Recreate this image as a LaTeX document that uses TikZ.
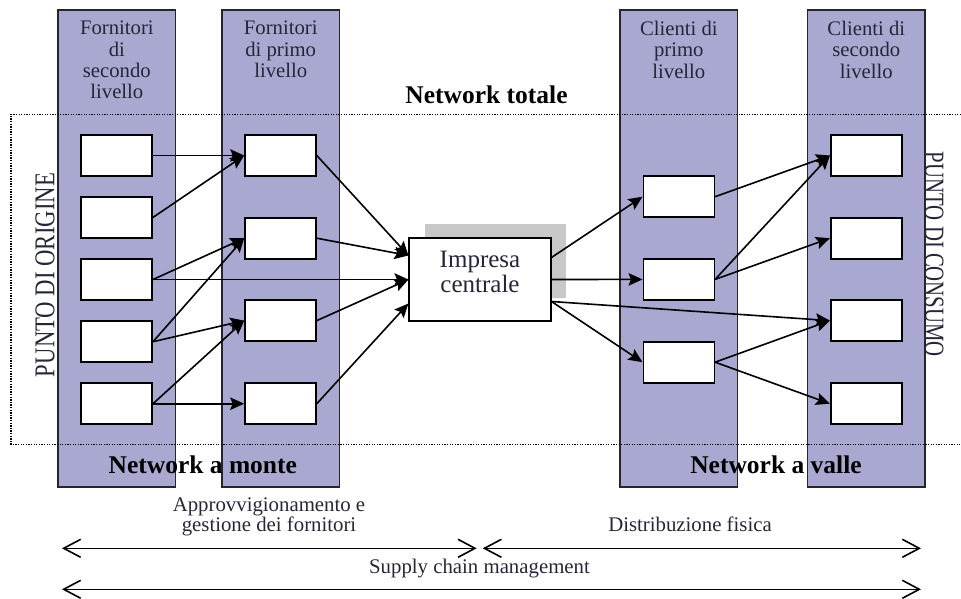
\documentclass[tikz,border=0pt]{standalone}
\usepackage{fontspec}
\usepackage{graphicx}
\setmainfont{Liberation Serif}
\usetikzlibrary{arrows.meta}
\definecolor{colfill}{RGB}{169,168,208}
\definecolor{shadowgray}{RGB}{200,200,200}
\definecolor{txt}{RGB}{38,38,58}
\begin{document}
\begin{tikzpicture}[x=1pt,y=-1pt,
  column/.style={draw=black!85, line width=1.5pt, fill=colfill, minimum width=117.7pt, minimum height=476.5pt, inner sep=0pt},
  unit/.style={draw=black, line width=1.6pt, fill=white, minimum width=71pt, minimum height=41pt, inner sep=0pt},
  corebox/.style={draw=black, line width=1.6pt, fill=white, minimum width=141.5pt, minimum height=82.5pt, inner sep=0pt},
  shadowbox/.style={fill=shadowgray, minimum width=141pt, minimum height=74pt, inner sep=0pt},
  flow/.style={-{Stealth[length=14pt,width=12.5pt,inset=2.5pt]}, line width=1.6pt},
  span/.style={{Straight Barb[length=17pt,width=18pt]}-{Straight Barb[length=17pt,width=18pt]}, line width=1.6pt},
  head/.style={font=\fontsize{20.7}{21.3}\selectfont, align=center, text=txt, inner sep=0pt, anchor=north},
  plain/.style={font=\fontsize{20.8}{20}\selectfont, align=center, text=txt, inner sep=0pt},
  boldlab/.style={font=\fontsize{25.5}{27}\selectfont\bfseries, inner sep=0pt, anchor=base},
  frame/.style={line width=1.4pt, dash pattern=on 1.3pt off 1.3pt}
]
\useasboundingbox (0,0) rectangle (961,599);

% columns
\node[column] (col1) at (116.85,248.5) {};
\node[column] (col2) at (280.7,248.5) {};
\node[column] (col3) at (678.85,248.5) {};
\node[column] (col4) at (866.3,248.5) {};

% column headers
\node[head] (h1) at (116.85,21) {Fornitori\\di\\secondo\\livello};
\node[head] (h2) at (280.7,21) {Fornitori\\di primo\\livello};
\node[head] (h3) at (678.85,21) {Clienti di\\primo\\livello};
\node[head] (h4) at (866.3,21) {Clienti di\\secondo\\livello};

% dotted frame
\draw[frame] (961,114.3) -- (11,114.3) -- (11,444.3) -- (961,444.3);

% boxes column 1
\node[unit] (a1) at (116.7,155.5) {};
\node[unit] (a2) at (116.7,217.4) {};
\node[unit] (a3) at (116.7,279.5) {};
\node[unit] (a4) at (116.7,341.7) {};
\node[unit] (a5) at (116.7,403.7) {};
% column 2
\node[unit] (b1) at (280.5,155.5) {};
\node[unit] (b2) at (280.5,238.2) {};
\node[unit] (b3) at (280.5,320.6) {};
\node[unit] (b4) at (280.5,403.7) {};
% column 3
\node[unit] (c1) at (678.8,196.7) {};
\node[unit] (c2) at (678.8,279.4) {};
\node[unit] (c3) at (678.8,362.2) {};
% column 4
\node[unit] (d1) at (866.2,155.5) {};
\node[unit] (d2) at (866.2,238.2) {};
\node[unit] (d3) at (866.2,320.6) {};
\node[unit] (d4) at (866.2,403.7) {};

% central firm
\node[shadowbox] (shadow) at (495.5,261) {};
\node[corebox] (core) at (480,279.5) {};
\node[font=\fontsize{25}{25}\selectfont, align=center, text=txt, inner sep=0pt, anchor=north] (coretext) at (480,251.2) {Impresa\\centrale};

% arrows col1 -> col2
\draw[flow] (a1.east) -- (b1.west);
\draw[flow] (a2.east) -- (b1.west);
\draw[flow] (a3.east) -- (b2.west);
\draw[flow] (a3.east) -- (core.west);
\draw[flow] (a4.east) -- (b2.west);
\draw[flow] (a4.east) -- (b3.west);
\draw[flow] (a5.east) -- (b3.west);
\draw[flow] (a5.east) -- (b4.west);
% col2 -> core
\draw[flow] (b1.east) -- ([yshift=24pt]core.west);
\draw[flow] (b2.east) -- ([yshift=24pt]core.west);
\draw[flow] (b3.east) -- (core.west);
\draw[flow] (b4.east) -- ([yshift=-24pt]core.west);
% core -> right
\draw[flow] ([yshift=22pt]core.east) -- (c1.west);
\draw[flow] (core.east) -- (c2.west);
\draw[flow] ([yshift=-22pt]core.east) -- (c3.west);
\draw[flow] ([yshift=-22pt]core.east) -- (d3.west);
% col3 -> col4
\draw[flow] (c1.east) -- (d1.west);
\draw[flow] (c2.east) -- (d1.west);
\draw[flow] (c2.east) -- (d2.west);
\draw[flow] (c3.east) -- (d3.west);
\draw[flow] (c3.east) -- (d4.west);

% labels
\node[boldlab] (nt) at (486.5,104) {Network totale};
\node[boldlab] (nm) at (202.8,473.3) {Network a monte};
\node[boldlab] (nv) at (776,473.3) {Network a valle};

\node[rotate=90, inner sep=0pt, text=txt] (po) at (45,275) {\resizebox{204pt}{19pt}{PUNTO DI ORIGINE}};
\node[rotate=-90, inner sep=0pt, text=txt] (pc) at (934.2,254.5) {\resizebox{205pt}{18.5pt}{PUNTO DI CONSUMO}};

\node[plain, anchor=north] (app) at (269,498) {Approvvigionamento e\\gestione dei fornitori};
\node[plain, anchor=base] (dist) at (690,531.7) {Distribuzione fisica};
\node[plain, anchor=base] (scm) at (479.5,573.3) {Supply chain management};

% span arrows
\coordinate (s1) at (62,548.3);
\coordinate (s2) at (476.7,548.3);
\coordinate (s3) at (482.7,548.3);
\coordinate (s4) at (921,548.3);
\coordinate (s5) at (62,589.3);
\coordinate (s6) at (921,589.3);
\draw[span] (s1) -- (s2);
\draw[span] (s3) -- (s4);
\draw[span] (s5) -- (s6);
\end{tikzpicture}
\end{document}
